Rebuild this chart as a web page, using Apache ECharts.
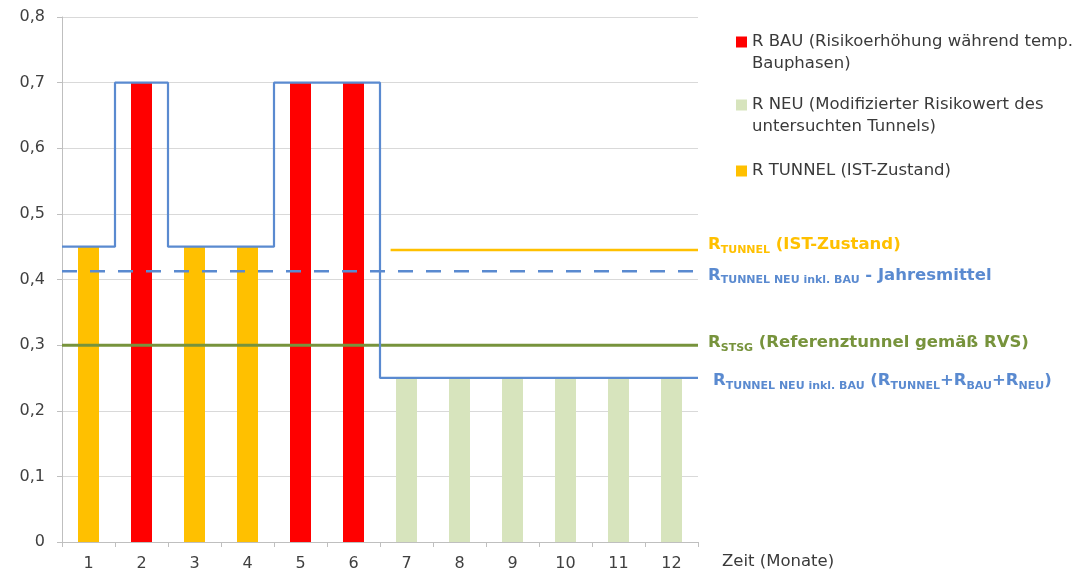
<!DOCTYPE html>
<html>
<head>
<meta charset="utf-8">
<script src="https://cdn.jsdelivr.net/npm/echarts@6/dist/echarts.min.js"></script>
<style>
  html, body { margin: 0; padding: 0; background: #ffffff; }
  #chart { width: 1090px; height: 573px; }
</style>
</head>
<body>
<div id="chart"></div>
<script>
// Months of the construction year
const months = ['1', '2', '3', '4', '5', '6', '7', '8', '9', '10', '11', '12'];

// Monthly risk components (one component active per month)
const rBau    = [null, 0.7, null, null, 0.7, 0.7, null, null, null, null, null, null];
const rNeu    = [null, null, null, null, null, null, 0.25, 0.25, 0.25, 0.25, 0.25, 0.25];
const rTunnel = [0.45, null, 0.45, 0.45, null, null, null, null, null, null, null, null];

// Reference levels
const rStsg = 0.3;          // Referenztunnel gemäß RVS
const rTunnelIst = 0.445;   // IST-Zustand
const istLineFrom = 6.2;    // month position where the IST line begins

// Series names
const nameBau = 'R BAU (Risikoerhöhung während temp. Bauphasen)';
const nameNeu = 'R NEU (Modifizierter Risikowert des untersuchten Tunnels)';
const nameTunnel = 'R TUNNEL (IST-Zustand)';

// Legend text, split into lines
const legendLines = {};
legendLines[nameBau] = ['R BAU (Risikoerhöhung während temp.', 'Bauphasen)'];
legendLines[nameNeu] = ['R NEU (Modifizierter Risikowert des', 'untersuchten Tunnels)'];
legendLines[nameTunnel] = ['R TUNNEL (IST-Zustand)'];

// Combined monthly risk R_TUNNEL + R_BAU + R_NEU and its annual mean
const total = months.map((m, i) => (rTunnel[i] || 0) + (rBau[i] || 0) + (rNeu[i] || 0));
const annualMean = total.reduce((a, b) => a + b, 0) / total.length;

const n = months.length;
const stepData = total.map((v, i) => [i, v]).concat([[n, total[n - 1]]]);

const blue = '#5a8ad0';
const yellow = '#ffc000';
const green = '#77933c';
const labelFont = 'DejaVu Sans';

const subStyle = { fontFamily: labelFont, fontSize: 11, fontWeight: 'bold', verticalAlign: 'bottom', lineHeight: 12 };
const bigStyle = { fontFamily: labelFont, fontSize: 16.5, fontWeight: 'bold', lineHeight: 21 };

function richFor(color) {
  return {
    r: Object.assign({}, bigStyle, { color: color }),
    s: Object.assign({}, subStyle, { color: color }),
    t: Object.assign({}, bigStyle, { color: color })
  };
}

function legendFor(name, top) {
  return {
    data: [name],
    orient: 'vertical',
    left: 736,
    top: top,
    padding: 0,
    icon: 'rect',
    itemWidth: 11,
    itemHeight: 11,
    selectedMode: false,
    textStyle: { fontFamily: labelFont, fontSize: 16.5, color: '#3a3a3a', lineHeight: 22 },
    formatter: function (nm) {
      const lines = legendLines[nm];
      return lines.length > 1 ? '\n' + lines.join('\n') : lines[0];
    }
  };
}

const chart = echarts.init(document.getElementById('chart'), null, { renderer: 'canvas' });

chart.setOption({
  animation: false,
  backgroundColor: '#ffffff',
  grid: { left: 62, right: 392, top: 17, bottom: 31, containLabel: false },
  legend: [
    legendFor(nameBau, 9),
    legendFor(nameNeu, 72),
    legendFor(nameTunnel, 160)
  ],
  xAxis: [
    {
      type: 'category',
      data: months,
      boundaryGap: true,
      name: 'Zeit (Monate)',
      nameLocation: 'end',
      nameGap: 24,
      nameTextStyle: { fontFamily: labelFont, fontSize: 16.5, color: '#3a3a3a', verticalAlign: 'top', padding: [11, 0, 0, 0] },
      axisLine: { lineStyle: { color: '#bfbfbf', width: 1 } },
      axisTick: { show: true, length: 5, alignWithLabel: false, lineStyle: { color: '#bfbfbf' } },
      axisLabel: { fontFamily: labelFont, fontSize: 16, color: '#404040', margin: 14 },
      splitLine: { show: false }
    },
    {
      type: 'value',
      min: 0,
      max: n,
      show: false
    }
  ],
  yAxis: {
    type: 'value',
    min: 0,
    max: 0.8,
    interval: 0.1,
    axisLine: { show: true, lineStyle: { color: '#bfbfbf', width: 1 } },
    axisTick: { show: true, length: 5, lineStyle: { color: '#bfbfbf' } },
    axisLabel: {
      fontFamily: labelFont, fontSize: 16, color: '#404040', margin: 17,
      formatter: v => (Math.round(v * 10) / 10).toString().replace('.', ',')
    },
    splitLine: { show: true, lineStyle: { color: '#d9d9d9', width: 1 } }
  },
  series: [
    { name: nameBau, type: 'bar', stack: 'r', xAxisIndex: 0, data: rBau, barWidth: 21, itemStyle: { color: '#ff0000' } },
    { name: nameNeu, type: 'bar', stack: 'r', xAxisIndex: 0, data: rNeu, barWidth: 21, itemStyle: { color: '#d7e4bd' } },
    { name: nameTunnel, type: 'bar', stack: 'r', xAxisIndex: 0, data: rTunnel, barWidth: 21, itemStyle: { color: yellow } },
    {
      name: 'R STSG', type: 'line', xAxisIndex: 1, showSymbol: false, silent: true,
      data: [[0, rStsg], [n, rStsg]],
      lineStyle: { color: green, width: 3 },
      endLabel: {
        show: true, distance: 10, offset: [0, -2],
        formatter: '{r|R}{s|STSG}{t| (Referenztunnel gemäß RVS)}',
        rich: richFor(green)
      }
    },
    {
      name: 'R TUNNEL IST', type: 'line', xAxisIndex: 1, showSymbol: false, silent: true,
      data: [[istLineFrom, rTunnelIst], [n, rTunnelIst]],
      lineStyle: { color: yellow, width: 2.5 },
      endLabel: {
        show: true, distance: 10, offset: [0, -5],
        formatter: '{r|R}{s|TUNNEL}{t| (IST-Zustand)}',
        rich: richFor(yellow)
      }
    },
    {
      name: 'R TUNNEL NEU Jahresmittel', type: 'line', xAxisIndex: 1, showSymbol: false, silent: true,
      data: [[0, annualMean], [n, annualMean]],
      lineStyle: { color: blue, width: 2.5, type: [15, 13] },
      endLabel: {
        show: true, distance: 10, offset: [0, 4],
        formatter: '{r|R}{s|TUNNEL NEU inkl. BAU}{t| - Jahresmittel}',
        rich: richFor(blue)
      }
    },
    {
      name: 'R TUNNEL NEU inkl. BAU', type: 'line', xAxisIndex: 1, showSymbol: false, silent: true,
      step: 'end',
      data: stepData,
      lineStyle: { color: blue, width: 2.2 },
      endLabel: {
        show: true, distance: 15, offset: [0, 3],
        formatter: '{r|R}{s|TUNNEL NEU inkl. BAU}{t| (R}{s|TUNNEL}{t|+R}{s|BAU}{t|+R}{s|NEU}{t|)}',
        rich: richFor(blue)
      }
    }
  ]
});
</script>
</body>
</html>
